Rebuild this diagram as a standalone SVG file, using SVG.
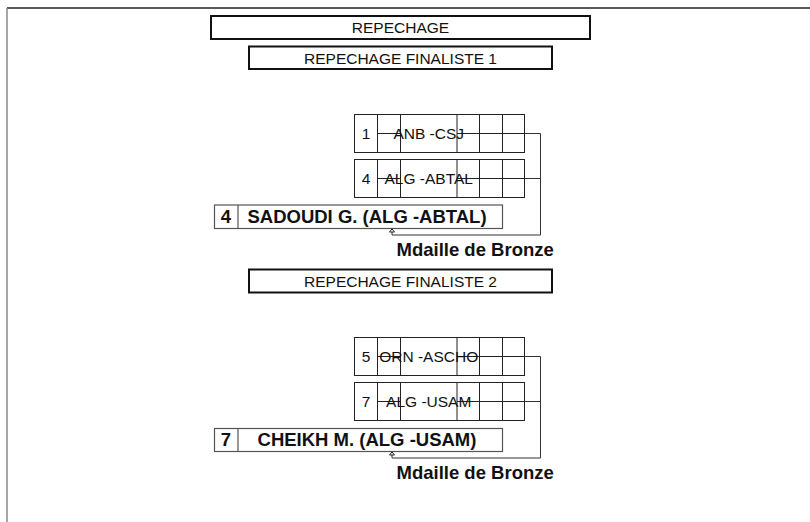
<svg xmlns="http://www.w3.org/2000/svg" width="810" height="522" viewBox="0 0 810 522">
<style>
  .bg{fill:#ffffff}
  .hdr{fill:#ffffff;stroke:#111;stroke-width:2}
  .grid{fill:#ffffff;stroke:#222;stroke-width:1}
  .gl{fill:none;stroke:#222;stroke-width:1}
  .win{fill:#ffffff;stroke:#555;stroke-width:1.2}
  .conn{fill:none;stroke:#333;stroke-width:1}
  .t{font-family:"Liberation Sans",Arial,sans-serif;font-size:15.5px;fill:#111}
  .b{font-family:"Liberation Sans",Arial,sans-serif;font-size:18.5px;font-weight:bold;fill:#111}
  .m{text-anchor:middle}
</style>
<defs>
  <marker id="arr" viewBox="0 0 4 6" refX="4" refY="3" markerWidth="4" markerHeight="6" markerUnits="userSpaceOnUse" orient="auto">
    <path d="M0.5,0.5 L3.5,3 L0.5,5.5 z" fill="#ffffff" stroke="#222" stroke-width="1"/>
  </marker>
</defs>
<rect class="bg" x="0" y="0" width="810" height="522"/>
<g id="frame">
  <line x1="7" y1="8" x2="810" y2="8" stroke="#222" stroke-width="1.3"/>
  <line x1="7" y1="8" x2="7" y2="522" stroke="#888" stroke-width="1.5"/>
</g>
<g id="title">
  <rect class="hdr" x="211" y="16" width="379" height="23"/>
  <text class="t m" x="400.5" y="32.5">REPECHAGE</text>
</g>
<g id="header-finaliste-1">
  <rect class="hdr" x="249" y="46.5" width="303" height="22.5"/>
  <text class="t m" x="400.5" y="63.5">REPECHAGE FINALISTE 1</text>
</g>
<g id="match-1-anb">
  <rect class="grid" x="354.5" y="114.5" width="170" height="38"/>
  <path class="gl" d="M377.5,114.5V152.5M400.5,114.5V152.5M457,114.5V152.5M479.5,114.5V152.5M502.5,114.5V152.5M377.5,133.5H400.5M457,133.5H524.5"/>
  <text class="t m" x="366" y="139">1</text>
  <text class="t m" x="428.7" y="139">ANB -CSJ</text>
</g>
<g id="match-1-alg">
  <rect class="grid" x="354.5" y="159.5" width="170" height="38"/>
  <path class="gl" d="M377.5,159.5V197.5M400.5,159.5V197.5M457,159.5V197.5M479.5,159.5V197.5M502.5,159.5V197.5M377.5,178.5H400.5M457,178.5H524.5"/>
  <text class="t m" x="366" y="184">4</text>
  <text class="t m" x="428.7" y="184">ALG -ABTAL</text>
</g>
<g id="winner-1">
  <rect class="win" x="214.5" y="205" width="288" height="23.5"/>
  <line class="win" x1="238" y1="205" x2="238" y2="228.5"/>
  <text class="b m" x="226" y="223">4</text>
  <text class="b m" x="367" y="223">SADOUDI G. (ALG -ABTAL)</text>
</g>
<g id="label-bronze-1">
  <text class="b" x="396.5" y="256">Mdaille de Bronze</text>
</g>
<g id="header-finaliste-2">
  <rect class="hdr" x="249" y="269.5" width="303" height="23"/>
  <text class="t m" x="400.5" y="286.5">REPECHAGE FINALISTE 2</text>
</g>
<g id="match-2-orn">
  <rect class="grid" x="354.5" y="337.5" width="170" height="38"/>
  <path class="gl" d="M377.5,337.5V375.5M400.5,337.5V375.5M457,337.5V375.5M479.5,337.5V375.5M502.5,337.5V375.5M377.5,356.5H400.5M457,356.5H524.5"/>
  <text class="t m" x="366" y="362">5</text>
  <text class="t m" x="428.7" y="362">ORN -ASCHO</text>
</g>
<g id="match-2-alg">
  <rect class="grid" x="354.5" y="382.5" width="170" height="38"/>
  <path class="gl" d="M377.5,382.5V420.5M400.5,382.5V420.5M457,382.5V420.5M479.5,382.5V420.5M502.5,382.5V420.5M377.5,401.5H400.5M457,401.5H524.5"/>
  <text class="t m" x="366" y="407">7</text>
  <text class="t m" x="428.7" y="407">ALG -USAM</text>
</g>
<g id="winner-2">
  <rect class="win" x="214.5" y="428.5" width="288" height="23"/>
  <line class="win" x1="238" y1="428.5" x2="238" y2="451.5"/>
  <text class="b m" x="226" y="446">7</text>
  <text class="b m" x="367" y="446">CHEIKH M. (ALG -USAM)</text>
</g>
<g id="label-bronze-2">
  <text class="b" x="396.5" y="479">Mdaille de Bronze</text>
</g>
<g id="connectors">
  <path class="conn" d="M524.5,133.5H540.5V235H392V228.5" marker-end="url(#arr)"/>
  <path class="conn" d="M524.5,178.5H540.5"/>
  <path class="conn" d="M524.5,356.5H540.5V458H392V451.5" marker-end="url(#arr)"/>
  <path class="conn" d="M524.5,401.5H540.5"/>
</g>
</svg>
